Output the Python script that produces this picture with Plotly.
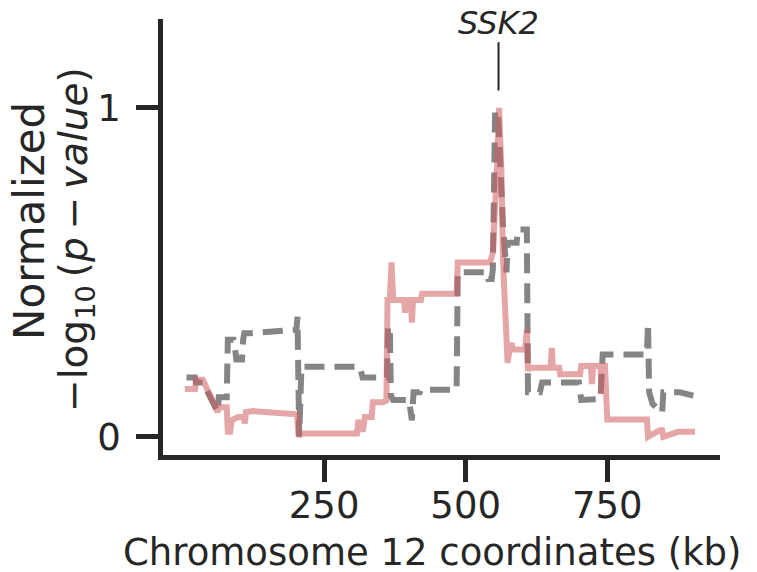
import plotly.graph_objects as go

# Pink (solid) series: step-like trace, kb vs normalized -log10(p)
pink_kb = [4, 22, 24, 36, 62, 64, 78, 80, 84, 87, 98, 108, 110, 112, 124, 202, 205, 208,
           308, 310, 316, 318, 322, 334, 336, 354, 360, 362, 366, 369, 372, 378, 391, 393, 395,
           403, 405, 407, 421, 423, 484, 486, 543, 548, 551, 555, 559, 563, 566, 572, 574, 578,
           581, 583, 605, 608, 610, 612, 631, 650, 652, 654, 665, 667, 702, 704, 721, 723, 725,
           738, 740, 742, 746, 750, 820, 822, 843, 847, 849, 856, 862, 875, 905]
pink_val = [0.145, 0.145, 0.173, 0.173, 0.075, 0.09, 0.09, 0.015, 0.015, 0.05, 0.06, 0.06, 0.04, 0.075, 0.078, 0.068, 0.0, 0.01,
            0.01, 0.043, 0.043, 0.015, 0.06, 0.06, 0.105, 0.105, 0.11, 0.416, 0.416, 0.53, 0.416, 0.416, 0.416, 0.377, 0.416,
            0.416, 0.347, 0.416, 0.416, 0.435, 0.435, 0.53, 0.53, 0.56, 0.64, 0.81, 1.0, 0.81, 0.53, 0.27, 0.225, 0.27,
            0.285, 0.265, 0.265, 0.325, 0.2, 0.21, 0.21, 0.21, 0.27, 0.21, 0.21, 0.19, 0.19, 0.215, 0.215, 0.16, 0.215,
            0.215, 0.13, 0.215, 0.215, 0.052, 0.052, 0.0, 0.02, 0.02, 0.0, 0.005, 0.01, 0.015, 0.015]

# Grey (dashed) series
grey_kb = [7, 22, 24, 36, 62, 64, 78, 80, 90, 92, 95, 105, 107, 109, 119, 177, 201, 203,
           206, 210, 313, 318, 361, 363, 366, 368, 372, 400, 405, 408, 419, 421, 484, 486, 538,
           540, 546, 548, 552, 557, 561, 566, 572, 574, 590, 592, 608, 610, 631, 635, 700, 704,
           738, 742, 746, 820, 822, 824, 830, 847, 849, 878, 902]
grey_val = [0.18, 0.18, 0.165, 0.165, 0.075, 0.12, 0.12, 0.295, 0.295, 0.28, 0.235, 0.235, 0.295, 0.315, 0.315, 0.325, 0.325, 0.365,
            0.0, 0.213, 0.213, 0.18, 0.18, 0.335, 0.335, 0.125, 0.112, 0.112, 0.05, 0.135, 0.135, 0.143, 0.143, 0.5, 0.5,
            0.48, 0.48, 0.51, 0.99, 0.99, 0.8, 0.64, 0.5, 0.59, 0.59, 0.63, 0.63, 0.135, 0.135, 0.165, 0.165, 0.112,
            0.115, 0.25, 0.25, 0.25, 0.345, 0.135, 0.1, 0.073, 0.135, 0.135, 0.125]

x_ticks = [250, 500, 750]
y_ticks = [0, 1]
gene_name = "SSK2"
gene_kb = 558
x_title = "Chromosome 12 coordinates (kb)"
y_title_1 = "Normalized"
y_title_2 = "\u2212log<sub>10</sub>\u2009(<i>p</i>\u2009\u2212\u2009<i>value</i>)"

INK = "#262626"
FONT = "DejaVu Sans"

fig = go.Figure()
fig.add_trace(go.Scatter(x=grey_kb, y=grey_val, mode="lines",
                         line=dict(color="rgba(120,120,120,0.9)", width=6, dash="20px,10px"),
                         hoverinfo="skip", showlegend=False))
fig.add_trace(go.Scatter(x=pink_kb, y=pink_val, mode="lines",
                         line=dict(color="rgba(205,92,92,0.55)", width=6),
                         hoverinfo="skip", showlegend=False))

fig.add_shape(type="line", xref="x", yref="y", x0=gene_kb, x1=gene_kb, y0=1.053, y1=1.20,
              line=dict(color=INK, width=2))
fig.add_annotation(x=gene_kb, y=1.258, xref="x", yref="y", text="<i>" + gene_name + "</i>",
                   showarrow=False, font=dict(family=FONT, size=32, color=INK),
                   yanchor="middle")

# axis titles as annotations (paper coords)
fig.add_annotation(x=0.483, y=-0.2225, xref="paper", yref="paper", text=x_title,
                   showarrow=False, font=dict(family=FONT, size=37, color=INK),
                   xanchor="center", yanchor="middle")
fig.add_annotation(x=-0.2388, y=0.5367, xref="paper", yref="paper", text=y_title_1,
                   showarrow=False, textangle=-90, font=dict(family=FONT, size=42, color=INK),
                   xanchor="center", yanchor="middle")
fig.add_annotation(x=-0.1562, y=0.4954, xref="paper", yref="paper", text=y_title_2,
                   showarrow=False, textangle=-90, font=dict(family=FONT, size=39, color=INK),
                   xanchor="center", yanchor="middle")

axis_font = dict(family=FONT, size=37, color=INK)
fig.update_layout(
    width=749, height=564,
    margin=dict(l=155, r=37, t=11, b=117),
    paper_bgcolor="white", plot_bgcolor="white",
    font=dict(family=FONT, color=INK),
    xaxis=dict(range=[-34.5, 949.1], tickvals=x_ticks, showgrid=False, zeroline=False,
               showline=True, linewidth=4.5, linecolor=INK,
               ticks="outside", ticklen=22, tickwidth=5, tickcolor=INK,
               tickfont=axis_font, ticklabelstandoff=-8),
    yaxis=dict(range=[-0.0556, 1.2705], tickvals=y_ticks, showgrid=False, zeroline=False,
               showline=True, linewidth=4.5, linecolor=INK,
               ticks="outside", ticklen=22, tickwidth=5, tickcolor=INK,
               tickfont=axis_font, ticklabelstandoff=8),
)

fig.write_html("out.html")
